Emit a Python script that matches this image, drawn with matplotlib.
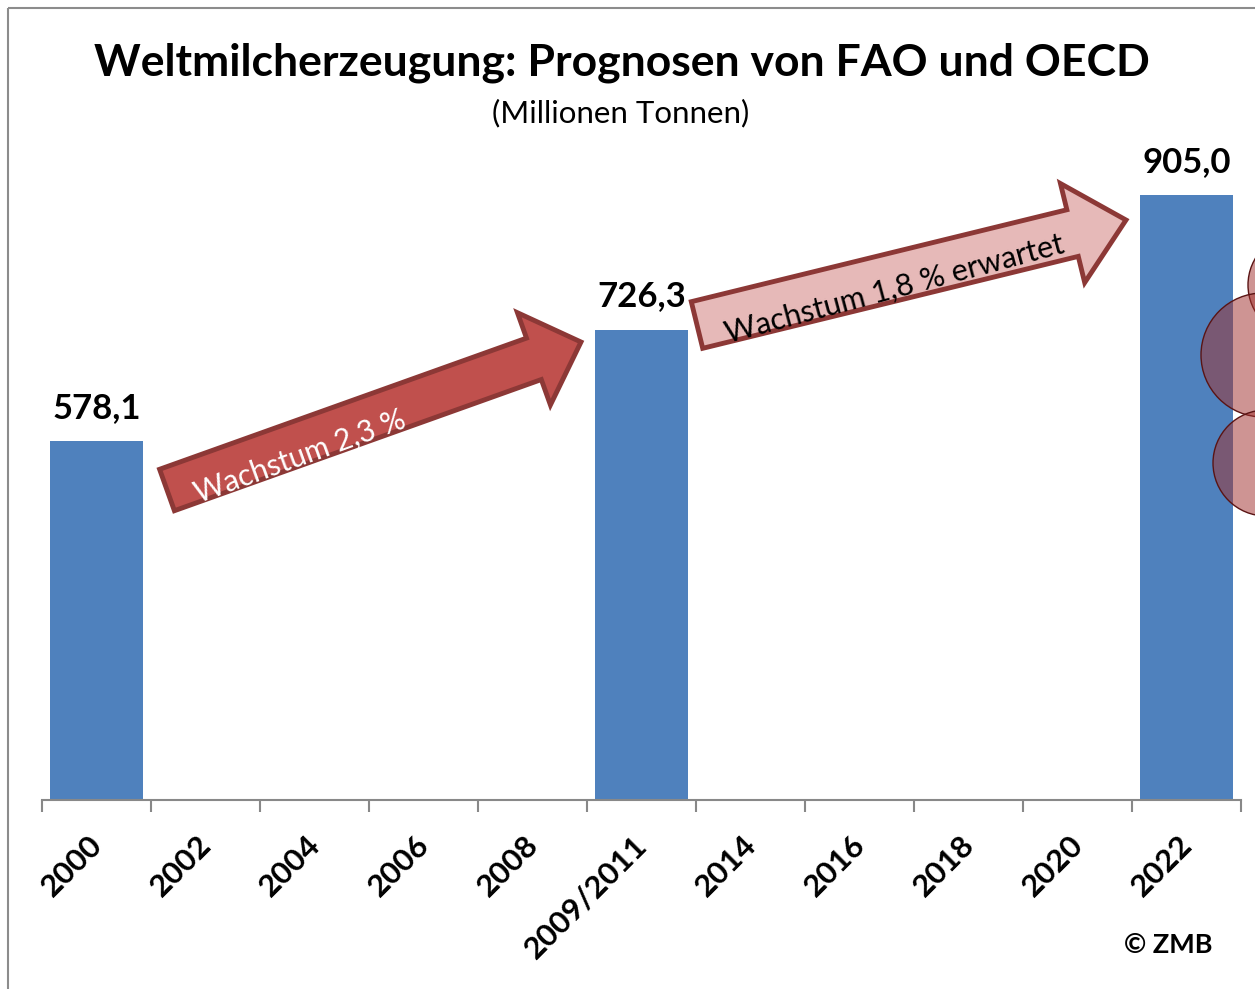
import numpy as np
import matplotlib
matplotlib.use("Agg")
import matplotlib.pyplot as plt
from matplotlib import transforms
from matplotlib.patches import FancyArrow, Circle, Rectangle

plt.rcParams['font.family'] = ['Lato', 'DejaVu Sans']

# data
years = ["2000", "2002", "2004", "2006", "2008", "2009/2011",
         "2014", "2016", "2018", "2020", "2022"]
production = [578.1, np.nan, np.nan, np.nan, np.nan, 726.3,
              np.nan, np.nan, np.nan, np.nan, 905.0]

title = "Weltmilcherzeugung: Prognosen von FAO und OECD"
subtitle = "(Millionen Tonnen)"
growth_past = "Wachstum 2,3 %"
growth_future = "Wachstum 1,8 % erwartet"

W, H = 1255, 989
fig = plt.figure(figsize=(W / 100, H / 100), dpi=100)
# pixel coords, origin top-left
pix = transforms.Affine2D().scale(1 / W, -1 / H).translate(0, 1) + fig.transFigure

ax = fig.add_axes([42 / W, 1 - 800 / H, 1199 / W, 676 / H])
x = np.arange(len(years))
bar_color = "#4F81BD"
ax.bar(x, production, width=0.86, color=bar_color)
ax.set_xlim(-0.5, len(years) - 0.5)
ax.set_ylim(100, 1000)

for s in ["top", "right", "left"]:
    ax.spines[s].set_visible(False)
ax.spines["bottom"].set_color("#888888")
ax.spines["bottom"].set_linewidth(1.5)
ax.set_yticks([])

# ticks between categories, labels at centers
ax.set_xticks(np.arange(-0.5, len(years)), labels=[])
ax.set_xticks(x, labels=years, minor=True)
ax.tick_params(axis="x", which="major", length=8.6, width=1.5, color="#888888")
ax.tick_params(axis="x", which="minor", length=0, pad=22)
shift = transforms.ScaledTranslation(-9 / 100, 0, fig.dpi_scale_trans)
for lab in ax.get_xticklabels(minor=True):
    lab.set_rotation(45)
    lab.set_ha("right")
    lab.set_va("top")
    lab.set_rotation_mode("anchor")
    lab.set_fontsize(22.5)
    lab.set_fontweight("bold")
    lab.set_transform(lab.get_transform() + shift)

for xi, v in zip(x, production):
    if np.isnan(v):
        continue
    ax.annotate(f"{v:.1f}".replace(".", ","), (xi, v), xytext=(0, 24),
                textcoords="offset points", ha="center", va="center",
                fontsize=25, fontweight="bold")

fig.text(622 / W, 1 - 63 / H, title, ha="center", va="center",
         fontsize=32, fontweight="bold")
fig.text(621 / W, 1 - 113 / H, subtitle, ha="center", va="center", fontsize=22.5)
fig.text(1168 / W, 1 - 945 / H, "© ZMB", ha="center", va="center",
         fontsize=19.5, fontweight="bold")

# frame around the chart (right/bottom edges lie outside the picture)
fig.patches.append(Rectangle((8, 8), 1400, 1200, transform=pix, fill=False,
                             edgecolor="#8C8C8C", linewidth=1.5))


def draw_arrow(tail, tip, width, head_width, head_length, face, edge):
    arr = FancyArrow(tail[0], tail[1], tip[0] - tail[0], tip[1] - tail[1],
                     width=width, head_width=head_width, head_length=head_length,
                     length_includes_head=True, transform=pix,
                     facecolor=face, edgecolor=edge, linewidth=3.5,
                     joinstyle="miter")
    fig.patches.append(arr)


draw_arrow((167, 490), (581, 342), 44, 98, 50, "#C0504D", "#8C3836")
draw_arrow((697, 325), (1126, 220), 48, 102, 55, "#E6B9B8", "#8C3836")

fig.text(300 / W, 1 - 457 / H, growth_past, rotation=20, ha="center",
         va="center", rotation_mode="anchor", fontsize=21.5, color="white")
fig.text(895 / W, 1 - 289 / H, growth_future, rotation=15, ha="center",
         va="center", rotation_mode="anchor", fontsize=22, color="black")

# decorative circles at right edge
for cx, cy, r in [(1300, 285, 52), (1263, 355, 62), (1266, 463, 53)]:
    fig.patches.append(Circle((cx, cy), r, transform=pix,
                              facecolor=(0.63, 0.2, 0.19, 0.52),
                              edgecolor="#5A1414", linewidth=1))

fig.savefig("out.png", dpi=100)
